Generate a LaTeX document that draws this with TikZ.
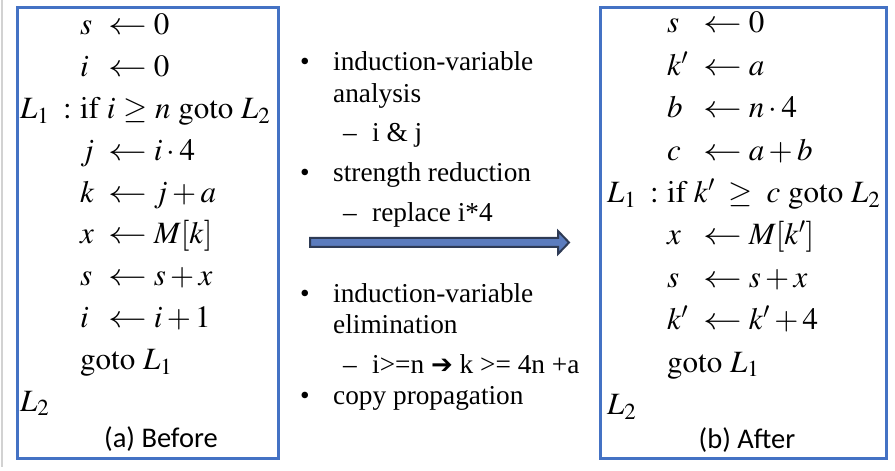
\documentclass[tikz,border=0pt]{standalone}
\usepackage{graphicx}
\usepackage{mathptmx}
\usepackage{fontspec}
\setmainfont{Liberation Serif}
\newfontfamily\capfont{Carlito}
\newfontfamily\symfont{DejaVu Sans}
\definecolor{boxblue}{HTML}{4472C4}
\definecolor{arrowfill}{HTML}{5B7CBE}
\definecolor{arrowdraw}{HTML}{2E3B55}
\newcommand{\getsarrow}{\mathrel{\scalebox{1.25}[1]{$\leftarrow$}}}
\newcommand{\asg}[3]{\makebox[#1][l]{$#2$}$\getsarrow #3$}
\newcommand{\lbl}[1]{\makebox[60bp][l]{$#1\;\;{:}$}}
\tikzset{code line/.style={anchor=base west,inner sep=0pt,font=\fontsize{31bp}{33bp}\selectfont},
         bullet text/.style={anchor=base west,inner sep=0pt,font=\fontsize{27.3bp}{30bp}\selectfont},
         caption/.style={anchor=base,inner sep=0pt,font=\capfont\fontsize{28.5bp}{30bp}\selectfont},
         code box/.style={draw=boxblue,line width=3bp}
}

\begin{document}
\begin{tikzpicture}[x=1bp,y=-1bp]
\useasboundingbox (0,0) rectangle (895,471);
\draw[gray!35,line width=1.2bp] (2,0) -- (2,467);
% before
\draw[code box] (17,8) rectangle (278,458);
\node[code line] (b1) at (80,35) {\asg{28bp}{s}{0}};
\node[code line] (b2) at (80,76.8) {\asg{28bp}{i}{0}};
\node[code line] (b3) at (20,118.6) {\lbl{L_1}$\mathrm{if}\ i\ {\geq}\ n\ \mathrm{goto}\ L_2$};
\node[code line] (b4) at (80,160.4) {\asg{28bp}{j}{i\cdot 4}};
\node[code line] (b5) at (80,202.2) {\asg{28bp}{k}{j+a}};
\node[code line] (b6) at (80,244) {\asg{28bp}{x}{M[k]}};
\node[code line] (b7) at (80,285.8) {\asg{28bp}{s}{s+x}};
\node[code line] (b8) at (80,327.6) {\asg{28bp}{i}{i+1}};
\node[code line] (b9) at (80,369.4) {$\mathrm{goto}\ L_1$};
\node[code line] (b10) at (20,411.2) {$L_2$};
\node[caption] (bcap) at (161,447) {(a) Before};
% after
\draw[code box] (600,8) rectangle (886,458);
\node[code line] (a1) at (667,33) {\asg{36bp}{s}{0}};
\node[code line] (a2) at (667,75.4) {\asg{36bp}{k'}{a}};
\node[code line] (a3) at (667,117.8) {\asg{36bp}{b}{n\cdot 4}};
\node[code line] (a4) at (667,160.2) {\asg{36bp}{c}{a+b}};
\node[code line] (a5) at (607,202.6) {\lbl{L_1}$\mathrm{if}\ k' \;\geq\; c\ \mathrm{goto}\ L_2$};
\node[code line] (a6) at (667,245) {\asg{36bp}{x}{M[k']}};
\node[code line] (a7) at (667,287.4) {\asg{36bp}{s}{s+x}};
\node[code line] (a8) at (667,329.8) {\asg{36bp}{k'}{k'+4}};
\node[code line] (a9) at (667,372.2) {$\mathrm{goto}\ L_1$};
\node[code line] (a10) at (607,414.6) {$L_2$};
\node[caption] (acap) at (747,448) {(b) After};
% steps
\node[bullet text] (m1) at (300,70.7) {\textbullet};
\node[bullet text] (t1) at (333,70.7) {induction-variable};
\node[bullet text] (t1b) at (333,102.7) {analysis};
\node[bullet text] (d1) at (343,141.7) {--};
\node[bullet text] (s1) at (372,141.7) {i \& j};
\node[bullet text] (m2) at (300,181.7) {\textbullet};
\node[bullet text] (t2) at (333,181.7) {strength reduction};
\node[bullet text] (d2) at (343,221.7) {--};
\node[bullet text] (s2) at (372,221.7) {replace i*4};
\node[bullet text] (m3) at (300,302.7) {\textbullet};
\node[bullet text] (t3) at (333,302.7) {induction-variable};
\node[bullet text] (t3b) at (333,333.3) {elimination};
\node[bullet text] (d3) at (343,374) {--};
\node[bullet text] (s3) at (372,374) {i>=n {\symfont\fontsize{26bp}{26bp}\selectfont ➔} k >= 4n +a};
\node[bullet text] (m4) at (300,404) {\textbullet};
\node[bullet text] (t4) at (333,404) {copy propagation};
% arrow
\draw[fill=arrowfill,draw=arrowdraw,line width=2bp,line join=miter]
  (310,238) -- (558,238) -- (558,231) -- (569,242.5) -- (558,254) -- (558,247) -- (310,247) -- cycle;
\end{tikzpicture}
\end{document}
